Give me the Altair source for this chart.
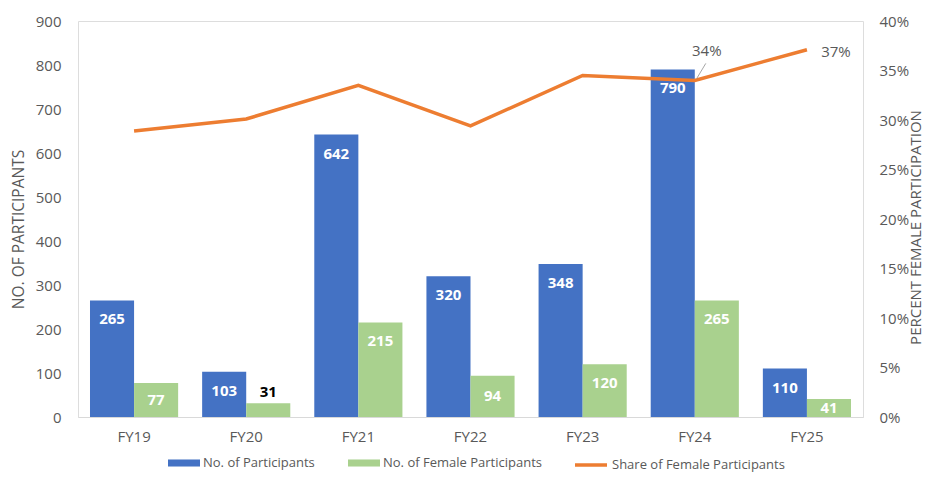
import altair as alt
import pandas as pd

categories = ["FY19", "FY20", "FY21", "FY22", "FY23", "FY24", "FY25"]
participants = [265, 103, 642, 320, 348, 790, 110]
female = [77, 31, 215, 94, 120, 265, 41]
share = [0.289, 0.301, 0.335, 0.294, 0.345, 0.340, 0.371]
bar_series = ["No. of Participants", "No. of Female Participants"]
line_series = "Share of Female Participants"
left_ticks = [0, 100, 200, 300, 400, 500, 600, 700, 800, 900]
right_ticks = [0, 0.05, 0.10, 0.15, 0.20, 0.25, 0.30, 0.35, 0.40]

BLUE = "#4472C4"
GREEN = "#A9D18E"
ORANGE = "#ED7D31"
GRAY = "#595959"
FONT = "Open Sans"

bars_df = pd.DataFrame({
    "cat": categories * 2,
    "series": [bar_series[0]] * len(categories) + [bar_series[1]] * len(categories),
    "value": participants + female,
})
line_df = pd.DataFrame({"cat": categories, "share": share, "series": [line_series] * len(categories)})

x_axis = alt.Axis(title=None, labelAngle=0, ticks=False, labelFontSize=15, labelColor=GRAY,
                  labelFont=FONT, labelPadding=12, domainColor="#D9D9D9", domainWidth=1, grid=False)
x_scale = alt.Scale(domain=categories, paddingInner=0.214, paddingOuter=0.107)


def X():
    return alt.X("cat:N", sort=categories, scale=x_scale, axis=x_axis)


def XO():
    return alt.XOffset("series:N", sort=bar_series, scale=alt.Scale(domain=bar_series))


left_axis = alt.Axis(title="NO. OF PARTICIPANTS", values=left_ticks, grid=False, ticks=False, domain=False,
                     labelFontSize=15, labelColor=GRAY, labelFont=FONT, labelPadding=17,
                     titleFontSize=15.5, titleFontWeight="normal", titleColor=GRAY, titleFont=FONT,
                     titleAngle=270, titleAlign="center", titleBaseline="middle", titleX=-60, titleY=208)
left_scale = alt.Scale(domain=[0, 900], nice=False)

right_axis = alt.Axis(title="PERCENT FEMALE PARTICIPATION", values=right_ticks, format=".0%", orient="right",
                      grid=False, ticks=False, domain=False,
                      labelFontSize=15, labelColor=GRAY, labelFont=FONT, labelPadding=16,
                      titleFontSize=15, titleFontWeight="normal", titleColor=GRAY, titleFont=FONT,
                      titleAngle=270, titleAlign="center", titleBaseline="middle", titleX=52, titleY=206)
right_scale = alt.Scale(domain=[0, 0.4], nice=False)


def YL(field):
    return alt.Y(field, scale=left_scale, axis=left_axis, title="NO. OF PARTICIPANTS")


def YR(field):
    return alt.Y(field, scale=right_scale, axis=right_axis, title="PERCENT FEMALE PARTICIPATION")


base_bars = alt.Chart(bars_df)

bars = base_bars.mark_bar().encode(
    x=X(), xOffset=XO(), y=YL("value:Q"),
    color=alt.Color("series:N", sort=bar_series,
                    scale=alt.Scale(domain=bar_series, range=[BLUE, GREEN]),
                    legend=alt.Legend(title=None, orient="none", legendX=90, legendY=426,
                                      direction="horizontal", symbolType="M-1,-0.22H1V0.22H-1Z",
                                      symbolSize=1024, symbolStrokeWidth=0, labelFontSize=13,
                                      labelColor=GRAY, labelFont=FONT, labelOffset=3, columnPadding=33,
                                      labelLimit=300, padding=0)),
)

lbl_big = base_bars.transform_filter("datum.value >= 100").mark_text(
    color="white", fontWeight="bold", fontSize=15, font=FONT, baseline="middle", dy=19
).encode(x=X(), xOffset=XO(), y=YL("value:Q"), text="value:Q")

lbl_mid = base_bars.transform_filter("datum.value >= 35 && datum.value < 100").transform_calculate(
    mid="datum.value / 2"
).mark_text(
    color="white", fontWeight="bold", fontSize=15, font=FONT, baseline="middle"
).encode(x=X(), xOffset=XO(), y=YL("mid:Q"), text="value:Q")

lbl_out = base_bars.transform_filter("datum.value < 35").mark_text(
    color="black", fontWeight="bold", fontSize=15, font=FONT, baseline="middle", dy=-11
).encode(x=X(), xOffset=XO(), y=YL("value:Q"), text="value:Q")

left = alt.layer(bars, lbl_big, lbl_mid, lbl_out)

base_line = alt.Chart(line_df)

line = base_line.mark_line(strokeWidth=3.5).encode(
    x=X(), y=YR("share:Q"),
    stroke=alt.Stroke("series:N", scale=alt.Scale(domain=[line_series], range=[ORANGE]),
                      legend=alt.Legend(title=None, orient="none", legendX=495, legendY=426,
                                        symbolType="stroke", symbolSize=1024, symbolStrokeWidth=3.5,
                                        labelFontSize=13, labelColor=GRAY, labelFont=FONT, labelOffset=3,
                                        labelLimit=300, padding=0)),
)

lab24 = base_line.transform_filter("datum.cat == 'FY24'").mark_text(
    color=GRAY, fontSize=15, font=FONT, baseline="middle", dx=12, dy=-29
).encode(x=X(), y=YR("share:Q"), text=alt.Text("share:Q", format=".0%"))

lab25 = base_line.transform_filter("datum.cat == 'FY25'").mark_text(
    color=GRAY, fontSize=15, font=FONT, baseline="middle", dx=29, dy=2
).encode(x=X(), y=YR("share:Q"), text=alt.Text("share:Q", format=".0%"))

leader = base_line.transform_filter("datum.cat == 'FY24'").mark_rule(
    color="#A6A6A6", strokeWidth=1, xOffset=2, x2Offset=11, yOffset=-2, y2Offset=-17
).encode(x=X(), x2=alt.X2("cat"), y=YR("share:Q"), y2=alt.Y2("share"))

right = alt.layer(line, leader, lab24, lab25)

chart = alt.layer(left, right).resolve_scale(y="independent").properties(
    width=785, height=396,
    padding={"left": 70, "top": 13, "right": 63, "bottom": 55},
    autosize=alt.AutoSizeParams(type="none"),
).configure_view(stroke=None).configure(font=FONT)

chart.save("out.html", embed_options={"renderer": "svg", "actions": False})
